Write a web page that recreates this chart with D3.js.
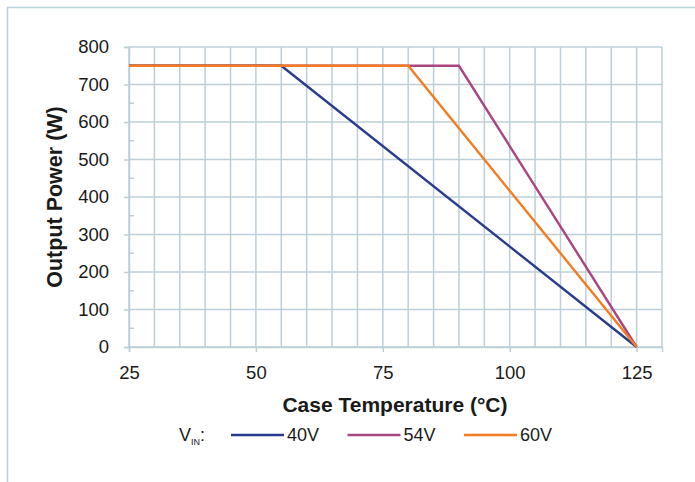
<!DOCTYPE html>
<html>
<head>
<meta charset="utf-8">
<script src="https://d3js.org/d3.v7.min.js"></script>
<style>
  body { margin: 0; background: #fff; }
  text { font-family: "Liberation Sans", Arial, sans-serif; fill: #1a1a1a; }
</style>
</head>
<body>
<div id="chart"></div>
<script>

/* Data */
/* ==== */

var xTicks = [25, 50, 75, 100, 125];
var yTicks = [0, 100, 200, 300, 400, 500, 600, 700, 800];

var temp40 = [25, 55, 125],
    power40 = [750, 750, 0];

var temp54 = [25, 90, 125],
    power54 = [750, 750, 0];

var temp60 = [25, 80, 125],
    power60 = [750, 750, 0];

var seriesNames = ['40V', '54V', '60V'];
var seriesColours = ['#283b8e', '#a9457f', '#f47c20'];


var width = 695,
    height = 482,
    margin = {top: 47, right: 33, bottom: 135, left: 129};

var gridColour = '#bccfd8';

var svg = d3.select('#chart').append('svg')
    .attr('width', width)
    .attr('height', height);

// outer frame, only top and left edges show
svg.append('path')
    .attr('d', 'M7.5,' + height + 'V7.5H' + width)
    .attr('fill', 'none')
    .attr('stroke', '#b9d3dc')
    .attr('stroke-width', 1.5);

var x = d3.scaleLinear()
    .domain([25, 130])
    .range([margin.left, width - margin.right]);

var y = d3.scaleLinear()
    .domain([0, 800])
    .range([height - margin.bottom, margin.top]);

// grid
var grid = svg.append('g')
    .attr('stroke', gridColour)
    .attr('stroke-width', 1.5);

grid.selectAll('.vgrid')
  .data(d3.range(25, 131, 5))
  .enter().append('line')
    .attr('x1', function(d) { return x(d); })
    .attr('x2', function(d) { return x(d); })
    .attr('y1', y(0))
    .attr('y2', y(800));

grid.selectAll('.hgrid')
  .data(yTicks)
  .enter().append('line')
    .attr('x1', x(25))
    .attr('x2', x(130))
    .attr('y1', function(d) { return y(d); })
    .attr('y2', function(d) { return y(d); });

// Y axis
var yAxis = svg.append('g')
    .attr('transform', 'translate(' + x(25) + ',0)')
    .call(d3.axisLeft(y).tickValues(yTicks).tickSize(5).tickPadding(15));

// minor ticks inside
yAxis.selectAll('.minor')
  .data(d3.range(50, 800, 100))
  .enter().append('line')
    .attr('class', 'minor')
    .attr('x1', 0)
    .attr('x2', 5)
    .attr('y1', function(d) { return y(d); })
    .attr('y2', function(d) { return y(d); });

// X axis
var xAxis = svg.append('g')
    .attr('transform', 'translate(0,' + y(0) + ')')
    .call(d3.axisBottom(x).tickValues(xTicks).tickSize(5).tickPadding(14));

[xAxis, yAxis].forEach(function(a) {
  a.select('.domain').attr('stroke', gridColour).attr('stroke-width', 1.5);
  a.selectAll('line').attr('stroke', gridColour).attr('stroke-width', 1.5);
  a.selectAll('text')
    .attr('font-family', '"Liberation Sans", Arial, sans-serif')
    .attr('font-size', 18.5)
    .attr('fill', '#1a1a1a');
});

// axis titles
svg.append('text')
    .attr('x', 395)
    .attr('y', 412)
    .attr('text-anchor', 'middle')
    .attr('font-size', 21)
    .attr('font-weight', 'bold')
    .text('Case Temperature (°C)');

svg.append('text')
    .attr('transform', 'translate(62,' + y(400) + ') rotate(-90)')
    .attr('text-anchor', 'middle')
    .attr('font-size', 21.5)
    .attr('font-weight', 'bold')
    .text('Output Power (W)');

// lines
var series = [
  {temps: temp40, power: power40},
  {temps: temp54, power: power54},
  {temps: temp60, power: power60}
];

var line = d3.line()
    .x(function(d) { return x(d[0]); })
    .y(function(d) { return y(d[1]); });

series.forEach(function(s, i) {
  svg.append('path')
      .datum(d3.zip(s.temps, s.power))
      .attr('d', line)
      .attr('fill', 'none')
      .attr('stroke', seriesColours[i])
      .attr('stroke-width', 2.4);
});

// legend
var legendY = 435;

var vin = svg.append('text')
    .attr('x', 179)
    .attr('y', legendY + 6)
    .attr('font-size', 18);
vin.append('tspan').text('V');
vin.append('tspan').attr('font-size', 9).attr('dy', 4).text('IN');
vin.append('tspan').attr('dy', -4).text(':');

var legend = svg.selectAll('.legend')
  .data(seriesNames)
  .enter().append('g')
    .attr('transform', function(d, i) { return 'translate(' + (231 + i * 116.5) + ',' + legendY + ')'; });

legend.append('line')
    .attr('x1', 0)
    .attr('x2', 53)
    .attr('stroke', function(d, i) { return seriesColours[i]; })
    .attr('stroke-width', 2.5);

legend.append('text')
    .attr('x', 56)
    .attr('y', 6)
    .attr('font-size', 18)
    .text(function(d) { return d; });

</script>
</body>
</html>
